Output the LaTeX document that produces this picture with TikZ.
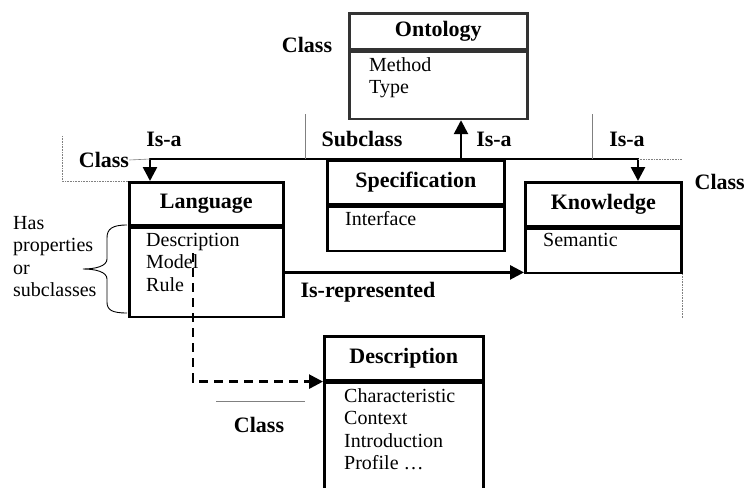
\documentclass[tikz,border=0pt]{standalone}
\usepackage{fontspec}
\setmainfont{Liberation Serif}
\usetikzlibrary{arrows.meta}

\begin{document}
\begin{tikzpicture}[x=1pt, y=-1pt,
    classhead/.style={draw, line width=2.6pt, anchor=north west, inner sep=0pt, font=\fontsize{22}{24}\selectfont\bfseries},
    classbody/.style={draw, line width=2.6pt, anchor=north, inner sep=0pt},
    items/.style={anchor=north west, align=left, inner sep=0pt, font=\fontsize{20}{22.5}\selectfont},
    lbl/.style={inner sep=0pt, font=\fontsize{22}{24}\selectfont\bfseries},
    isa/.style={line width=2.6pt, -{Triangle[length=14pt,width=14pt]}},
    isaboth/.style={line width=2.6pt, {Triangle[length=14pt,width=14pt]}-{Triangle[length=14pt,width=14pt]}},
    guide/.style={gray, line width=0.6pt},
    ]
    \useasboundingbox (0,0) rectangle (746,487);

    % classes
    \node[classhead, draw=black!80, minimum width=178pt, minimum height=36pt] (onto) at (348,12) {Ontology};
    \node[classbody, draw=black!80, minimum width=178pt, minimum height=67pt] (ontobody) at (onto.south) {};
    \node[items] (ontoitems) at (369,57) {Method\\Type};

    \node[classhead, minimum width=177pt, minimum height=44pt] (spec) at (326,159) {Specification};
    \node[classbody, minimum width=177pt, minimum height=44pt] (specbody) at (spec.south) {};
    \node[items] (specitems) at (345,211) {Interface};

    \node[classhead, minimum width=154pt, minimum height=43pt] (lang) at (128,181) {Language};
    \node[classbody, minimum width=154pt, minimum height=89pt] (langbody) at (lang.south) {};
    \node[items] (langitems) at (146,233) {Description\\Model\\Rule};

    \node[classhead, minimum width=156pt, minimum height=44pt] (know) at (524,181) {Knowledge};
    \node[classbody, minimum width=156pt, minimum height=44pt] (knowbody) at (know.south) {};
    \node[items] (knowitems) at (543,233) {Semantic};

    \node[classhead, minimum width=159pt, minimum height=44pt] (desc) at (323,335) {Description};
    \node[classbody, minimum width=159pt, minimum height=115pt] (descbody) at (desc.south) {};
    \node[items] (descitems) at (344,388) {Characteristic\\Context\\Introduction\\Profile …};

    % labels
    \node[lbl] (clsonto) at (307,45) {Class};
    \node[lbl] (clslang) at (104,160) {Class};
    \node[lbl, anchor=east] (clsknow) at (745,182) {Class};
    \node[lbl] (clsdesc) at (259,425) {Class};
    \node[lbl] (isalang) at (164,139) {Is-a};
    \node[lbl] (subcls) at (362,139) {Subclass};
    \node[lbl] (isaspec) at (494,139) {Is-a};
    \node[lbl] (isaknow) at (627,139) {Is-a};
    \node[lbl] (isrep) at (368,292) {Is-represented};
    \node[items] (hasprops) at (13,216) {Has\\properties\\or\\subclasses};

    % is-a relations
    \coordinate (jl) at (150,159);
    \coordinate (jr) at (638,159);
    \coordinate (js) at (461,159);
    \draw[isaboth] (jl |- lang.north) -- (jl) -- (jr) -- (jr |- know.north);
    \draw[isa] (js) -- (js |- ontobody.south);
    \draw[isa] (langbody.east) -- (langbody.east -| knowbody.west);

    % property link
    \coordinate (dstart) at (193,253);
    \draw[isa, dash pattern=on 9pt off 6pt] (dstart) |- (desc.south west);

    % thin guides
    \draw[guide] (clslang.east) -- (jl);
    \draw[guide] (305,114) -- (305,159);
    \draw[guide] (592,114) -- (592,159);
    \draw[guide] (216,401) -- (305,401);
    \draw[guide, densely dotted] (62,136) |- (lang.north west);
    \draw[guide, densely dotted] (jr) -- (jr -| know.east);
    \draw[guide, densely dotted] (knowbody.south east) -- ++(0,44);

    % brace
    \draw[line width=0.9pt] (127,225) .. controls (112,225) and (107,229) .. (107,238) -- (107,259)
        .. controls (107,266) and (96,269) .. (83,269)
        .. controls (96,269) and (107,272) .. (107,279) -- (107,302)
        .. controls (107,310) and (112,313) .. (127,313);
\end{tikzpicture}
\end{document}
